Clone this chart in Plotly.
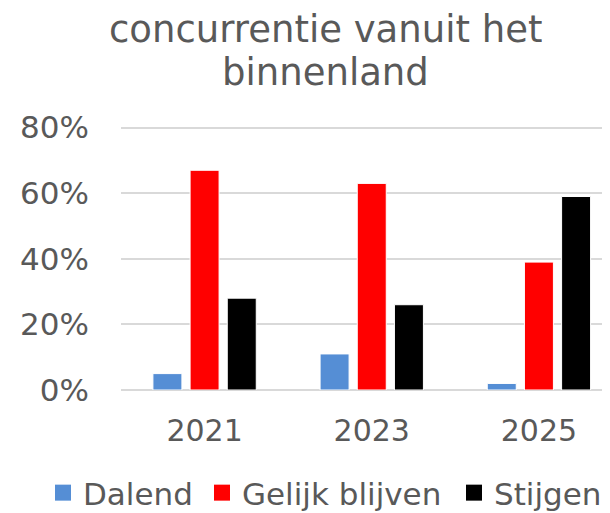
import plotly.graph_objects as go

categories = ["2021", "2023", "2025"]
dalend = [0.05, 0.11, 0.02]
gelijk = [0.67, 0.63, 0.39]
stijgen = [0.28, 0.26, 0.59]
series_names = ["Dalend", "Gelijk blijven", "Stijgen"]
colors = ["#558ED5", "#FF0000", "#000000"]
tick_vals = [0, 0.2, 0.4, 0.6, 0.8]
tick_text = ["0%", "20%", "40%", "60%", "80%"]
title_lines = ["concurrentie vanuit het", "binnenland"]

FONT = "Verdana, DejaVu Sans, sans-serif"
GREY = "#595959"
legend_widths = [114, 207, 125]

# the page body adds an 8px offset; layout numbers below are in figure coords
L, R, T, B = 113, 0, 118, 131
W, HGT = 610, 513
PW = W - L - R
PH = HGT - T - B

fig = go.Figure()
for name, vals, col in zip(series_names, [dalend, gelijk, stijgen], colors):
    fig.add_trace(go.Bar(
        x=categories, y=vals, name=name, showlegend=False,
        marker=dict(color=col, line=dict(color="white", width=1)),
    ))
for name, col, lw in zip(series_names, colors, legend_widths):
    fig.add_trace(go.Scatter(
        x=[None], y=[None], name=name, mode="markers",
        marker=dict(symbol="square", size=17, color=col),
        legendwidth=lw,
    ))

for i, line in enumerate(title_lines):
    yc = [21, 64][i]
    fig.add_annotation(
        text=line, xref="paper", yref="paper",
        x=(317 - L) / PW, y=(HGT - B - yc) / PH,
        xanchor="center", yanchor="middle", showarrow=False,
        height=36, valign="middle",
        font=dict(family=FONT, size=37, color=GREY),
    )

fig.update_layout(
    width=W, height=HGT,
    paper_bgcolor="white", plot_bgcolor="white",
    margin=dict(l=L, r=R, t=T, b=B, autoexpand=False),
    barmode="group", bargap=0.333, bargroupgap=0.22,
    font=dict(family=FONT, color=GREY),
    xaxis=dict(
        type="category", range=[-0.5, 2.473],
        showgrid=False, showline=False, ticks="",
        tickfont=dict(family=FONT, size=30, color=GREY),
        ticklabelstandoff=20,
    ),
    yaxis=dict(
        range=[0, 0.805], tickvals=tick_vals, ticktext=tick_text,
        showgrid=True, gridcolor="#D9D9D9", gridwidth=1.5,
        zeroline=True, zerolinecolor="#D9D9D9", zerolinewidth=1.5,
        showline=False, ticks="",
        tickfont=dict(family=FONT, size=31, color=GREY),
        ticklabelstandoff=31,
    ),
    legend=dict(
        orientation="h", xref="paper", yref="paper",
        x=(35 - L) / PW, xanchor="left", y=(HGT - B - 485) / PH, yanchor="middle",
        font=dict(family=FONT, size=31, color=GREY),
        itemwidth=30, traceorder="normal", entrywidthmode="pixels",
    ),
)

fig.write_html("out.html")
